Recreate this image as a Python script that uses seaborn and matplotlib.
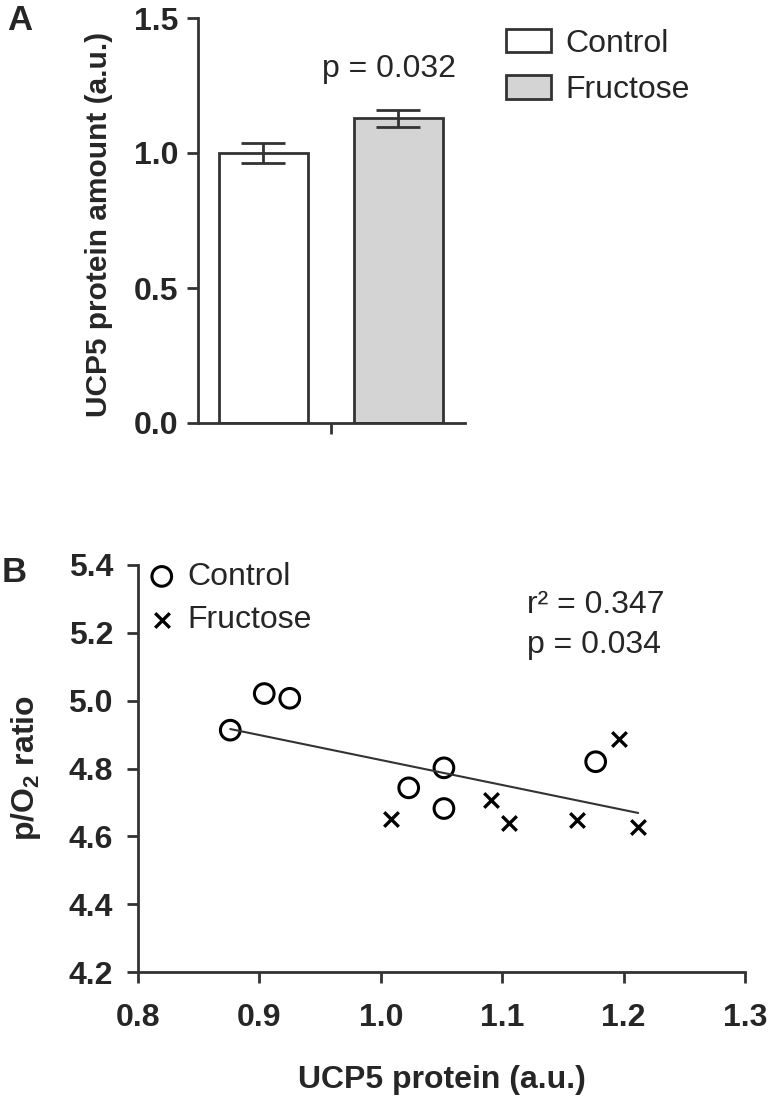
import numpy as np
import pandas as pd
import seaborn as sns
import matplotlib.pyplot as plt
from matplotlib.patches import Patch
from matplotlib.ticker import FormatStrFormatter

# Panel A - UCP5 protein (mean +/- SEM)
groups = ["Control", "Fructose"]
protein_mean = [1.00, 1.128]
protein_sem = [0.038, 0.032]
bar_colors = ["white", "#d4d4d4"]

# Panel B - p/O2 ratio vs UCP5 protein
ctrl_x = [0.876, 0.904, 0.925, 1.052, 1.023, 1.052, 1.177]
ctrl_y = [4.913, 5.021, 5.007, 4.802, 4.743, 4.682, 4.820]
fru_x = [1.008, 1.091, 1.106, 1.162, 1.212, 1.196]
fru_y = [4.650, 4.707, 4.640, 4.648, 4.628, 4.887]

sns.set_style("ticks")
plt.rcParams["font.family"] = ["Liberation Sans", "DejaVu Sans"]
plt.rcParams["mathtext.fontset"] = "custom"
plt.rcParams["mathtext.rm"] = "Liberation Sans:bold"
plt.rcParams["mathtext.default"] = "rm"

dark = "#333333"
W, H = 770, 1096
fig = plt.figure(figsize=(W / 100, H / 100), dpi=100)

# ---------- Panel A ----------
axA = fig.add_axes([198 / W, 1 - 423 / H, 267 / W, 405 / H])
sns.barplot(x=groups, y=protein_mean, hue=groups, palette=bar_colors,
            width=0.66, edgecolor=dark, linewidth=2, errorbar=None,
            legend=False, ax=axA)
axA.errorbar([0, 1], protein_mean, yerr=protein_sem, fmt="none",
             ecolor=dark, elinewidth=2, capsize=16, capthick=2)
axA.set_xlim(-0.485, 1.493)
axA.set_ylim(0, 1.5)
axA.set_yticks([0, 0.5, 1.0, 1.5])
axA.yaxis.set_major_formatter(FormatStrFormatter("%.1f"))
axA.set_xticks([0.5])
axA.set_xticklabels([""])
axA.set_xlabel("")
axA.set_ylabel("UCP5 protein amount (a.u.)", fontsize=21.5, fontweight="bold")
axA.yaxis.set_label_coords(-0.37, 0.49)
axA.yaxis.label.set_verticalalignment("center")
sns.despine(ax=axA)
for sp in axA.spines.values():
    sp.set_linewidth(2)
    sp.set_color(dark)
axA.tick_params(axis="both", width=2, length=8, color=dark, labelsize=23)
axA.tick_params(axis="y", pad=6)
for lab in axA.get_yticklabels():
    lab.set_fontweight("bold")

handles = [Patch(facecolor=c, edgecolor=dark, linewidth=2) for c in bar_colors]
axA.legend(handles, groups, loc="center left", bbox_to_anchor=(506 / W, 1 - 67 / H),
           bbox_transform=fig.transFigure, frameon=False, fontsize=23,
           handlelength=1.4, handleheight=0.75, handletextpad=0.45,
           labelspacing=0.52, borderpad=0, borderaxespad=0)
fig.text(389.5 / W, 1 - 77 / H, "p = 0.032", fontsize=23, ha="center", va="baseline")

# ---------- Panel B ----------
axB = fig.add_axes([138 / W, 1 - 972 / H, 607 / W, 407 / H])
sns.scatterplot(x=ctrl_x, y=ctrl_y, marker="o", s=200, color="black",
                edgecolor="black", linewidth=2.2, label="Control", ax=axB)
axB.collections[-1].set_facecolor("none")
sns.scatterplot(x=fru_x, y=fru_y, marker="x", s=110, color="black",
                linewidth=2.4, label="Fructose", ax=axB)
sns.regplot(x=ctrl_x + fru_x, y=ctrl_y + fru_y, scatter=False, ci=None,
            truncate=True, color=dark, line_kws={"linewidth": 1.5}, ax=axB)
axB.set_xlim(0.8, 1.3)
axB.set_ylim(4.2, 5.4)
axB.set_xticks(np.arange(0.8, 1.31, 0.1))
axB.set_yticks(np.arange(4.2, 5.41, 0.2))
axB.xaxis.set_major_formatter(FormatStrFormatter("%.1f"))
axB.yaxis.set_major_formatter(FormatStrFormatter("%.1f"))
axB.set_xlabel("UCP5 protein (a.u.)", fontsize=23, fontweight="bold")
axB.set_ylabel(r"p/O$_2$ ratio", fontsize=23, fontweight="bold")
axB.xaxis.set_label_coords(0.5, -0.265)
axB.xaxis.label.set_verticalalignment("center")
axB.yaxis.set_label_coords(-0.1845, 0.5)
axB.yaxis.label.set_verticalalignment("center")
sns.despine(ax=axB)
for sp in axB.spines.values():
    sp.set_linewidth(2)
    sp.set_color(dark)
axB.tick_params(axis="both", width=2, length=8, color=dark, labelsize=23)
axB.tick_params(axis="y", pad=10)
axB.tick_params(axis="x", pad=14)
for lab in axB.get_xticklabels() + axB.get_yticklabels():
    lab.set_fontweight("bold")

axB.legend(loc="center left", bbox_to_anchor=(149 / W, 1 - 598.5 / H),
           bbox_transform=fig.transFigure, frameon=False, fontsize=23,
           handlelength=0.8, handletextpad=0.4, labelspacing=0.42,
           borderpad=0, borderaxespad=0, scatterpoints=1)
fig.text(527 / W, 1 - 613 / H, "r² = 0.347", fontsize=23, ha="left", va="baseline")
fig.text(527 / W, 1 - 653 / H, "p = 0.034", fontsize=23, ha="left", va="baseline")

# panel letters
fig.text(7 / W, 1 - 20 / H, "A", fontsize=25, fontweight="bold", ha="left", va="center")
fig.text(2 / W, 1 - 572 / H, "B", fontsize=25, fontweight="bold", ha="left", va="center")

fig.savefig("out.png", dpi=100)
